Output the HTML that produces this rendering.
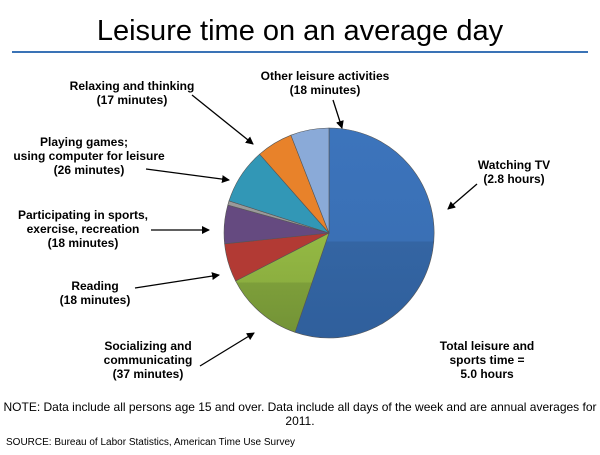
<!DOCTYPE html>
<html><head><meta charset="utf-8"><style>
body{margin:0;background:#fff;width:600px;height:450px;overflow:hidden;font-family:"Liberation Sans",Arial,sans-serif}
svg text{font-family:"Liberation Sans",Arial,sans-serif}
</style></head><body>
<svg width="600" height="450" viewBox="0 0 600 450" xmlns="http://www.w3.org/2000/svg">
<defs>
<marker id="ar" markerWidth="8" markerHeight="8" refX="7" refY="4" orient="auto" markerUnits="userSpaceOnUse"><path d="M0,0 L8,4 L0,8 z" fill="#000"/></marker>
<linearGradient id="tv" gradientUnits="userSpaceOnUse" x1="0" y1="128" x2="0" y2="338"><stop offset="0" stop-color="#3c74bc"/><stop offset="0.54" stop-color="#3a70b5"/><stop offset="0.54" stop-color="#3465a3"/><stop offset="1" stop-color="#2f5f9c"/></linearGradient>
<linearGradient id="gr" gradientUnits="userSpaceOnUse" x1="0" y1="240" x2="0" y2="335"><stop offset="0" stop-color="#93b843"/><stop offset="0.45" stop-color="#8caf40"/><stop offset="0.45" stop-color="#7d9e3a"/><stop offset="1" stop-color="#739336"/></linearGradient>
</defs>
<text x="300" y="40" font-size="29" text-anchor="middle" fill="#000">Leisure time on an average day</text>
<line x1="12" y1="52" x2="588" y2="52" stroke="#3a73b6" stroke-width="2"/>
<g stroke="#555" stroke-width="0.6">
<path d="M329,233 L329,128 A105,105 0 1,1 295.0,332.3 Z" fill="url(#tv)"/>
<path d="M329,233 L295.0,332.3 A105,105 0 0,1 235.6,281.0 Z" fill="url(#gr)"/>
<path d="M329,233 L235.6,281.0 A105,105 0 0,1 224.6,243.8 Z" fill="#b23a34"/>
<path d="M329,233 L224.6,243.8 A105,105 0 0,1 227.8,205.1 Z" fill="#654a80"/>
<path d="M329,233 L227.8,205.1 A105,105 0 0,1 229.0,200.9 Z" fill="#9a9a9a"/>
<path d="M329,233 L229.0,200.9 A105,105 0 0,1 259.6,154.2 Z" fill="#3297b6"/>
<path d="M329,233 L259.6,154.2 A105,105 0 0,1 290.9,135.2 Z" fill="#e8822a"/>
<path d="M329,233 L290.9,135.2 A105,105 0 0,1 329,128 Z" fill="#8aaad8"/>
</g>
<g font-size="12" font-weight="bold" fill="#000" text-anchor="middle">
<text x="132" y="90">Relaxing and thinking</text><text x="132" y="104">(17 minutes)</text>
<text x="325" y="80">Other leisure activities</text><text x="325" y="94">(18 minutes)</text>
<text x="84" y="146">Playing games;</text><text x="89" y="160">using computer for leisure</text><text x="89" y="174">(26 minutes)</text>
<text x="83" y="219">Participating in sports,</text><text x="83" y="233">exercise, recreation</text><text x="83" y="247">(18 minutes)</text>
<text x="95" y="290">Reading</text><text x="95" y="304">(18 minutes)</text>
<text x="148" y="350">Socializing and</text><text x="148" y="364">communicating</text><text x="148" y="378">(37 minutes)</text>
<text x="514" y="169">Watching TV</text><text x="514" y="183">(2.8 hours)</text>
<text x="487" y="350">Total leisure and</text><text x="487" y="364">sports time =</text><text x="487" y="378">5.0 hours</text>
</g>
<g stroke="#000" stroke-width="1.3" marker-end="url(#ar)">
<line x1="192" y1="95" x2="253" y2="144"/>
<line x1="333" y1="100" x2="342" y2="128"/>
<line x1="146" y1="169" x2="229" y2="180"/>
<line x1="151" y1="230" x2="209" y2="230"/>
<line x1="135" y1="288" x2="219" y2="275"/>
<line x1="200" y1="366" x2="254" y2="333"/>
<line x1="477" y1="184" x2="448" y2="209"/>
</g>
<text x="300" y="411" font-size="12" text-anchor="middle" fill="#000">NOTE: Data include all persons age 15 and over. Data include all days of the week and are annual averages for</text>
<text x="300" y="425" font-size="12" text-anchor="middle" fill="#000">2011.</text>
<text x="6" y="445" font-size="10" fill="#000">SOURCE: Bureau of Labor Statistics, American Time Use Survey</text>
</svg>
</body></html>
